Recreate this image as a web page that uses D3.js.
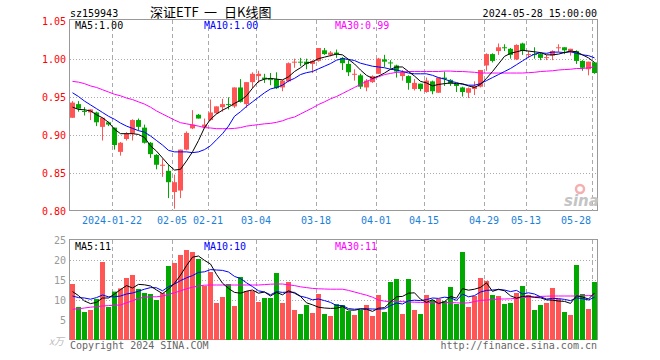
<!DOCTYPE html>
<html>
<head>
<meta charset="utf-8">
<script src="https://cdn.jsdelivr.net/npm/d3@7"></script>
<style>
	body { margin: 0; background: #fff; }
	svg text { font-family: 'DejaVu Sans Mono', monospace; font-size: 10px; }
</style>
</head>
<body>
<div id="chart"></div>
<script>
const dates = ['01-11', '01-12', '01-15', '01-16', '01-17', '01-18', '01-19', '01-22', '01-23', '01-24',
	'01-25', '01-26', '01-29', '01-30', '01-31', '02-01', '02-02', '02-05', '02-06', '02-07',
	'02-08', '02-19', '02-20', '02-21', '02-22', '02-23', '02-26', '02-27', '02-28', '02-29',
	'03-01', '03-04', '03-05', '03-06', '03-07', '03-08', '03-11', '03-12', '03-13', '03-14',
	'03-15', '03-18', '03-19', '03-20', '03-21', '03-22', '03-25', '03-26', '03-27', '03-28',
	'03-29', '04-01', '04-02', '04-03', '04-08', '04-09', '04-10', '04-11', '04-12', '04-15',
	'04-16', '04-17', '04-18', '04-19', '04-22', '04-23', '04-24', '04-25', '04-26', '04-29',
	'04-30', '05-06', '05-07', '05-08', '05-09', '05-10', '05-13', '05-14', '05-15', '05-16',
	'05-17', '05-20', '05-21', '05-22', '05-23', '05-24', '05-27', '05-28'];

const open = [.923, .941, .932, .930, .930, .911, .917, .910, .878, .895,
	.902, .920, .910, .890, .874, .860, .853, .825, .827, .881,
	.909, .927, .911, .920, .929, .937, .941, .938, .963, .941,
	.970, .978, .976, .974, .974, .963, .971, .996, .997, .997,
	.994, .998, 1.012, 1.006, 1.009, 1.002, .994, .980, .979, .963,
	.970, .981, 1.000, .996, .992, .978, .978, .961, .968, .957,
	.971, .956, .976, .973, .968, .963, .956, .961, .964, .992,
	1.007, 1.011, 1.016, 1.014, 1.000, 1.021, 1.006, 1.007, 1.007, 1.002,
	1.005, 1.015, 1.016, 1.011, 1.011, .998, .987, .996];
const high = [.945, .945, .937, .934, .931, .923, .918, .910, .891, .904,
	.921, .922, .914, .891, .875, .869, .861, .848, .881, .905,
	.933, .928, .922, .947, .938, .948, .950, .963, .974, .970,
	.983, .985, .981, .982, .983, .973, .996, 1.001, 1.002, 1.001,
	.999, 1.015, 1.015, 1.011, 1.013, 1.003, .999, .987, .981, .974,
	.979, 1.002, 1.006, .999, .993, .986, .979, .974, .968, .976,
	.972, .976, .984, .974, .968, .964, .963, .971, .986, 1.008,
	1.008, 1.021, 1.020, 1.015, 1.020, 1.022, 1.011, 1.016, 1.009, 1.006,
	1.012, 1.020, 1.016, 1.014, 1.012, .999, .997, .996];
const low = [.923, .931, .926, .920, .912, .893, .912, .881, .873, .893,
	.893, .906, .889, .870, .855, .845, .817, .803, .817, .880,
	.908, .922, .910, .919, .928, .931, .934, .936, .943, .936,
	.962, .969, .969, .966, .961, .958, .970, .989, .991, .987,
	.982, .997, 1.006, 1.004, 1.002, .986, .978, .972, .961, .958,
	.969, .981, .990, .988, .976, .972, .960, .959, .958, .956,
	.954, .956, .965, .965, .957, .951, .949, .953, .963, .985,
	.996, 1.006, 1.011, 1.001, .999, 1.006, 1.002, 1.001, .999, .999,
	.999, 1.010, 1.007, 1.005, .994, .985, .979, .981];
const close = [.943, .935, .931, .934, .917, .923, .914, .887, .890, .902,
	.920, .911, .890, .875, .861, .861, .838, .838, .881, .903,
	.914, .922, .914, .930, .938, .941, .940, .963, .944, .970,
	.981, .981, .974, .973, .962, .972, .995, .997, .996, .994,
	.998, 1.015, 1.007, 1.009, 1.007, .995, .983, .981, .964, .972,
	.978, 1.001, .997, .995, .984, .983, .969, .969, .961, .972,
	.958, .976, .974, .968, .965, .957, .962, .965, .986, 1.007,
	.998, 1.016, 1.015, 1.006, 1.019, 1.011, 1.007, 1.006, 1.002, 1.003,
	1.011, 1.016, 1.012, 1.014, .998, .989, .997, .982];

// moving averages as drawn on the chart
const ma5 = [.937, .934, .9335, .932, .927, .923, .917, .908, .902, .902,
	.902, .901, .897, .886, .879, .870, .861, .854, .855, .866,
	.878, .893, .910, .921, .928, .933, .937, .942, .946, .952,
	.962, .971, .974, .975, .974, .973, .977, .984, .989, .995,
	.997, 1.001, 1.003, 1.005, 1.007, 1.006, 1.000, .994, .986, .979,
	.975, .978, .982, .987, .990, .990, .984, .978, .971, .969,
	.965, .967, .968, .969, .968, .968, .965, .963, .967, .975,
	.984, .994, 1.004, 1.008, 1.010, 1.012, 1.011, 1.010, 1.009, 1.006,
	1.006, 1.007, 1.009, 1.011, 1.010, 1.006, 1.002, .996];
const ma10 = [.956, .951, .945, .940, .935, .930, .925, .921, .916, .912,
	.909, .906, .904, .899, .893, .887, .880, .878, .878, .878,
	.877, .878, .881, .886, .894, .902, .912, .925, .931, .938,
	.944, .950, .956, .961, .963, .966, .9715, .975, .980, .9825,
	.984, .9876, .991, .9945, .999, 1.001, 1.000, .9985, .995, .993,
	.991, .990, .989, .987, .986, .984, .982, .981, .981, .981,
	.979, .976, .974, .971, .9695, .967, .966, .966, .968, .972,
	.976, .980, .984, .988, .993, .998, 1.003, 1.007, 1.0087, 1.008,
	1.0096, 1.0096, 1.009, 1.010, 1.008, 1.006, 1.005, 1.002];
const ma30 = [.971, .970, .968, .965, .963, .960, .957, .954, .952, .949,
	.947, .944, .941, .937, .932, .928, .924, .920, .9165, .915,
	.9135, .912, .910, .9095, .9086, .9086, .9086, .909, .910, .912,
	.913, .914, .915, .9156, .917, .919, .922, .924, .928, .932,
	.936, .9405, .944, .948, .951, .955, .959, .963, .967, .971,
	.974, .977, .980, .9815, .983, .983, .984, .984, .984, .984,
	.984, .984, .9846, .9846, .984, .984, .9835, .983, .982, .982,
	.982, .982, .982, .982, .982, .982, .9825, .983, .984, .9845,
	.985, .986, .9866, .987, .988, .988, .989, .990];

// volume, x万
const volume = [14.0, 8.25, 7.0, 7.5, 10.25, 19.5, 8.25, 12.1, 12.9, 15.5,
	16.25, 12.75, 11.75, 11.5, 10.0, 11.75, 18.5, 19.25, 21.25, 22.5,
	22.0, 20.25, 13.5, 17.0, 9.25, 10.75, 14.0, 8.5, 15.75, 12.25,
	12.25, 9.5, 10.5, 10.5, 16.75, 9.25, 14.5, 7.5, 6.5, 8.75,
	6.75, 11.5, 6.5, 6.0, 9.0, 8.75, 7.25, 6.25, 7.5, 8.75,
	6.0, 11.25, 7.0, 14.5, 15.25, 6.5, 15.25, 7.5, 6.5, 11.25,
	10.0, 10.25, 9.75, 13.25, 9.0, 22.0, 8.25, 11.0, 15.5, 14.75,
	11.25, 11.0, 9.0, 9.25, 11.75, 13.5, 11.25, 7.5, 8.75, 9.25,
	13.0, 10.25, 7.0, 6.25, 18.75, 11.5, 7.75, 14.5];
const vma5 = [12.1, 11.1, 9.75, 9.1, 9.4, 10.5, 10.5, 11.5, 12.6, 13.6,
	13.0, 13.9, 13.8, 13.5, 12.5, 11.6, 12.7, 14.2, 16.2, 18.6,
	20.7, 21.0, 19.9, 19.0, 16.4, 14.2, 12.9, 11.9, 11.7, 12.2,
	12.5, 11.7, 12.0, 11.0, 11.9, 11.3, 12.3, 11.7, 10.9, 9.3,
	8.8, 8.2, 8.0, 7.9, 7.95, 8.35, 7.5, 7.45, 7.75, 7.7,
	7.15, 7.95, 8.1, 9.5, 10.8, 10.9, 11.7, 11.8, 10.2, 9.4,
	10.1, 9.1, 9.55, 10.9, 10.45, 12.85, 12.45, 12.7, 13.15, 14.3,
	12.15, 12.7, 12.3, 11.05, 10.45, 10.9, 10.95, 10.65, 10.55, 10.05,
	9.95, 9.75, 9.65, 9.15, 11.05, 10.75, 10.25, 11.75];
const vma10 = [11.0, 10.6, 10.5, 10.2, 10.6, 11.25, 10.8, 10.8, 11.0, 11.5,
	11.75, 12.2, 12.7, 13.1, 13.05, 12.3, 13.3, 14.0, 14.85, 15.55,
	16.1, 16.9, 17.05, 17.6, 17.5, 17.4, 17.0, 15.9, 15.35, 14.3,
	13.35, 12.3, 12.0, 11.3, 12.1, 11.9, 12.0, 11.9, 10.95, 10.6,
	10.05, 10.25, 9.85, 9.4, 8.6, 8.6, 7.85, 7.7, 7.8, 7.8,
	7.75, 7.7, 7.8, 8.6, 9.25, 9.0, 9.8, 9.95, 9.85, 10.1,
	10.5, 10.4, 10.7, 10.55, 9.9, 11.5, 10.8, 11.1, 12.0, 12.4,
	12.5, 12.6, 12.5, 12.1, 12.4, 11.5, 11.8, 11.5, 10.8, 10.25,
	10.4, 10.35, 10.15, 9.85, 10.55, 10.35, 10.0, 10.7];
const vma30 = [7.7, 7.8, 8.0, 8.2, 8.35, 8.5, 8.6, 8.7, 8.75, 9.3,
	9.8, 10.4, 10.7, 10.8, 10.8, 11.0, 11.4, 11.8, 12.3, 12.8,
	13.2, 13.5, 13.7, 13.75, 13.75, 13.75, 13.75, 13.75, 13.75, 13.75,
	13.75, 13.75, 13.85, 13.95, 14.0, 14.0, 13.8, 13.6, 13.3, 13.1,
	12.9, 12.8, 12.75, 12.7, 12.7, 12.7, 12.4, 12.0, 11.6, 11.2,
	10.7, 10.0, 9.7, 9.6, 9.6, 9.6, 9.5, 9.45, 9.4, 9.4,
	9.4, 9.4, 9.4, 9.35, 9.3, 9.2, 9.3, 9.6, 9.9, 10.0,
	10.1, 10.25, 10.25, 10.3, 10.45, 10.6, 10.7, 10.8, 10.9, 10.95,
	11.0, 11.0, 11.0, 11.0, 11.0, 11.05, 11.1, 11.1];

const priceTicks = [0.80, 0.85, 0.90, 0.95, 1.00, 1.05];
const volTicks = [5, 10, 15, 20, 25];
const tickDates = ['01-22', '02-05', '02-21', '03-04', '03-18', '04-01', '04-15', '04-29', '05-13', '05-28'];
const tickLabels = ['2024-01-22', '02-05', '02-21', '03-04', '03-18', '04-01', '04-15', '04-29', '05-13', '05-28'];

(() => {
	const width = 660;
	const height = 360;
	const left = 70;
	const right = 598;
	const main = { top: 20, bottom: 211 };
	const vol = { top: 240, bottom: 340 };
	const up = '#ff5555';
	const down = '#00a800';
	const gridColor = '#aaa';

	const svg = d3.select('#chart').append('svg')
		.attr('width', width)
		.attr('height', height);

	const x = d3.scaleBand()
		.domain(dates)
		.range([left, right])
		.paddingInner(1 / 6)
		.paddingOuter(1 / 12)
		.align(0);
	const cx = d => x(d) + x.bandwidth() / 2;

	const y = d3.scaleLinear()
		.domain([0.80, 1.05])
		.range([main.bottom, main.top + 1.5]);
	const yv = d3.scaleLinear()
		.domain([0, 25])
		.range([vol.bottom, vol.top]);

	// frames
	[main, vol].forEach(p => {
		svg.append('rect')
			.attr('x', left - 0.5)
			.attr('y', p.top - 0.5)
			.attr('width', right - left)
			.attr('height', p.bottom - p.top)
			.style('fill', 'none')
			.style('stroke', '#999');
	});

	// horizontal grid
	svg.append('g').selectAll('line')
		.data(priceTicks.slice(1, -1))
		.enter().append('line')
			.attr('x1', left)
			.attr('x2', right)
			.attr('y1', d => Math.round(y(d)) + 0.5)
			.attr('y2', d => Math.round(y(d)) + 0.5)
			.style('stroke', gridColor)
			.style('stroke-dasharray', '1, 2');
	svg.append('g').selectAll('line')
		.data(volTicks.slice(0, -1))
		.enter().append('line')
			.attr('x1', left)
			.attr('x2', right)
			.attr('y1', d => Math.round(yv(d)) + 0.5)
			.attr('y2', d => Math.round(yv(d)) + 0.5)
			.style('stroke', gridColor)
			.style('stroke-dasharray', '1, 2');

	// vertical date grid
	[main, vol].forEach(p => {
		svg.append('g').selectAll('line')
			.data(tickDates)
			.enter().append('line')
				.attr('x1', d => x(d) + 0.5)
				.attr('x2', d => x(d) + 0.5)
				.attr('y1', p.top)
				.attr('y2', p.bottom)
				.style('stroke', gridColor)
				.style('stroke-dasharray', '4, 3');
	});

	// sina watermark
	const mark = svg.append('g').attr('transform', 'translate(564, 184)');
	mark.append('circle')
		.attr('cx', 16)
		.attr('cy', 5)
		.attr('r', 4)
		.style('fill', 'none')
		.style('stroke', '#f4b0b0')
		.style('stroke-width', 2.5);
	mark.append('text')
		.attr('x', 0)
		.attr('y', 22)
		.style('font-family', 'DejaVu Sans')
		.style('font-size', '15px')
		.style('font-weight', 700)
		.style('font-style', 'italic')
		.style('fill', '#c4c4c4')
		.text('sina');

	// candles
	const candles = svg.append('g').selectAll('.candle')
		.data(dates.map((d, i) => ({ d, o: open[i], h: high[i], l: low[i], c: close[i] })))
		.enter().append('g')
			.attr('class', 'candle');
	candles.append('line')
		.attr('x1', d => Math.floor(cx(d.d)) + 0.5)
		.attr('x2', d => Math.floor(cx(d.d)) + 0.5)
		.attr('y1', d => y(d.h))
		.attr('y2', d => y(d.l))
		.style('stroke', d => d.c >= d.o ? up : down);
	candles.append('rect')
		.attr('x', d => x(d.d))
		.attr('width', x.bandwidth())
		.attr('y', d => y(Math.max(d.o, d.c)))
		.attr('height', d => Math.max(1, Math.abs(y(d.o) - y(d.c))))
		.style('fill', d => d.c >= d.o ? up : down);

	// volume bars
	svg.append('g').selectAll('rect')
		.data(volume)
		.enter().append('rect')
			.attr('x', (d, i) => x(dates[i]))
			.attr('width', x.bandwidth())
			.attr('y', d => yv(d))
			.attr('height', d => yv(0) - yv(d))
			.style('fill', (d, i) => close[i] >= open[i] ? up : down);

	// moving average lines
	const drawLine = (values, scale, color) => {
		const lineFunc = d3.line()
			.x((d, i) => cx(dates[i]))
			.y(d => scale(d));
		svg.append('path')
			.attr('d', lineFunc(values))
			.style('fill', 'none')
			.style('stroke', color)
			.style('stroke-width', 1);
	};
	drawLine(ma30, y, '#ff00ff');
	drawLine(ma10, y, '#0000ff');
	drawLine(ma5, y, '#000');
	drawLine(vma30, yv, '#ff00ff');
	drawLine(vma10, yv, '#0000ff');
	drawLine(vma5, yv, '#000');

	// axis labels
	svg.append('g').selectAll('text')
		.data(priceTicks)
		.enter().append('text')
			.attr('x', 66)
			.attr('y', d => y(d))
			.attr('dy', '0.35em')
			.style('text-anchor', 'end')
			.style('fill', '#f00')
			.text(d => d.toFixed(2));
	svg.append('g').selectAll('text')
		.data(volTicks)
		.enter().append('text')
			.attr('x', 66)
			.attr('y', d => yv(d))
			.attr('dy', '0.35em')
			.style('text-anchor', 'end')
			.style('fill', '#999')
			.text(d => d);
	svg.append('text')
		.attr('x', 64)
		.attr('y', 345)
		.style('text-anchor', 'end')
		.style('fill', '#bbb')
		.style('font-family', 'Noto Sans CJK SC')
		.style('font-style', 'italic')
		.text('x万');

	svg.append('g').selectAll('text')
		.data(tickDates)
		.enter().append('text')
			.attr('x', (d, i) => i === tickDates.length - 1 ? x(d) - 1 : x(d))
			.attr('y', 224)
			.style('text-anchor', (d, i) => i === tickDates.length - 1 ? 'end' : 'middle')
			.style('fill', '#1a80d9')
			.text((d, i) => tickLabels[i]);

	// header and footer
	svg.append('text')
		.attr('x', 70)
		.attr('y', 17)
		.text('sz159943');
	const title = svg.append('text')
		.attr('y', 17)
		.style('font-family', 'Noto Sans CJK SC')
		.style('font-size', '13px');
	[[150, '深证ETF'], [204, '一'], [224, '日K线图']].forEach(([tx, s]) => {
		title.append('tspan')
			.attr('x', tx)
			.text(s);
	});
	svg.append('text')
		.attr('x', 597)
		.attr('y', 17)
		.style('text-anchor', 'end')
		.text('2024-05-28 15:00:00');
	svg.append('text')
		.attr('x', 70)
		.attr('y', 349)
		.style('fill', '#666')
		.text('Copyright 2024 SINA.COM');
	svg.append('text')
		.attr('x', 597)
		.attr('y', 349)
		.style('text-anchor', 'end')
		.style('fill', '#666')
		.text('http://finance.sina.com.cn');

	// legends
	const legend = (ty, items) => {
		items.forEach(([tx, color, label]) => {
			svg.append('text')
				.attr('x', tx)
				.attr('y', ty)
				.style('fill', color)
				.text(label);
		});
	};
	legend(29, [[75, '#000', 'MA5:1.00'], [204, '#0000ff', 'MA10:1.00'], [335, '#ff00ff', 'MA30:0.99']]);
	legend(250, [[75, '#000', 'MA5:11'], [204, '#0000ff', 'MA10:10'], [335, '#ff00ff', 'MA30:11']]);
})();
</script>
</body>
</html>
